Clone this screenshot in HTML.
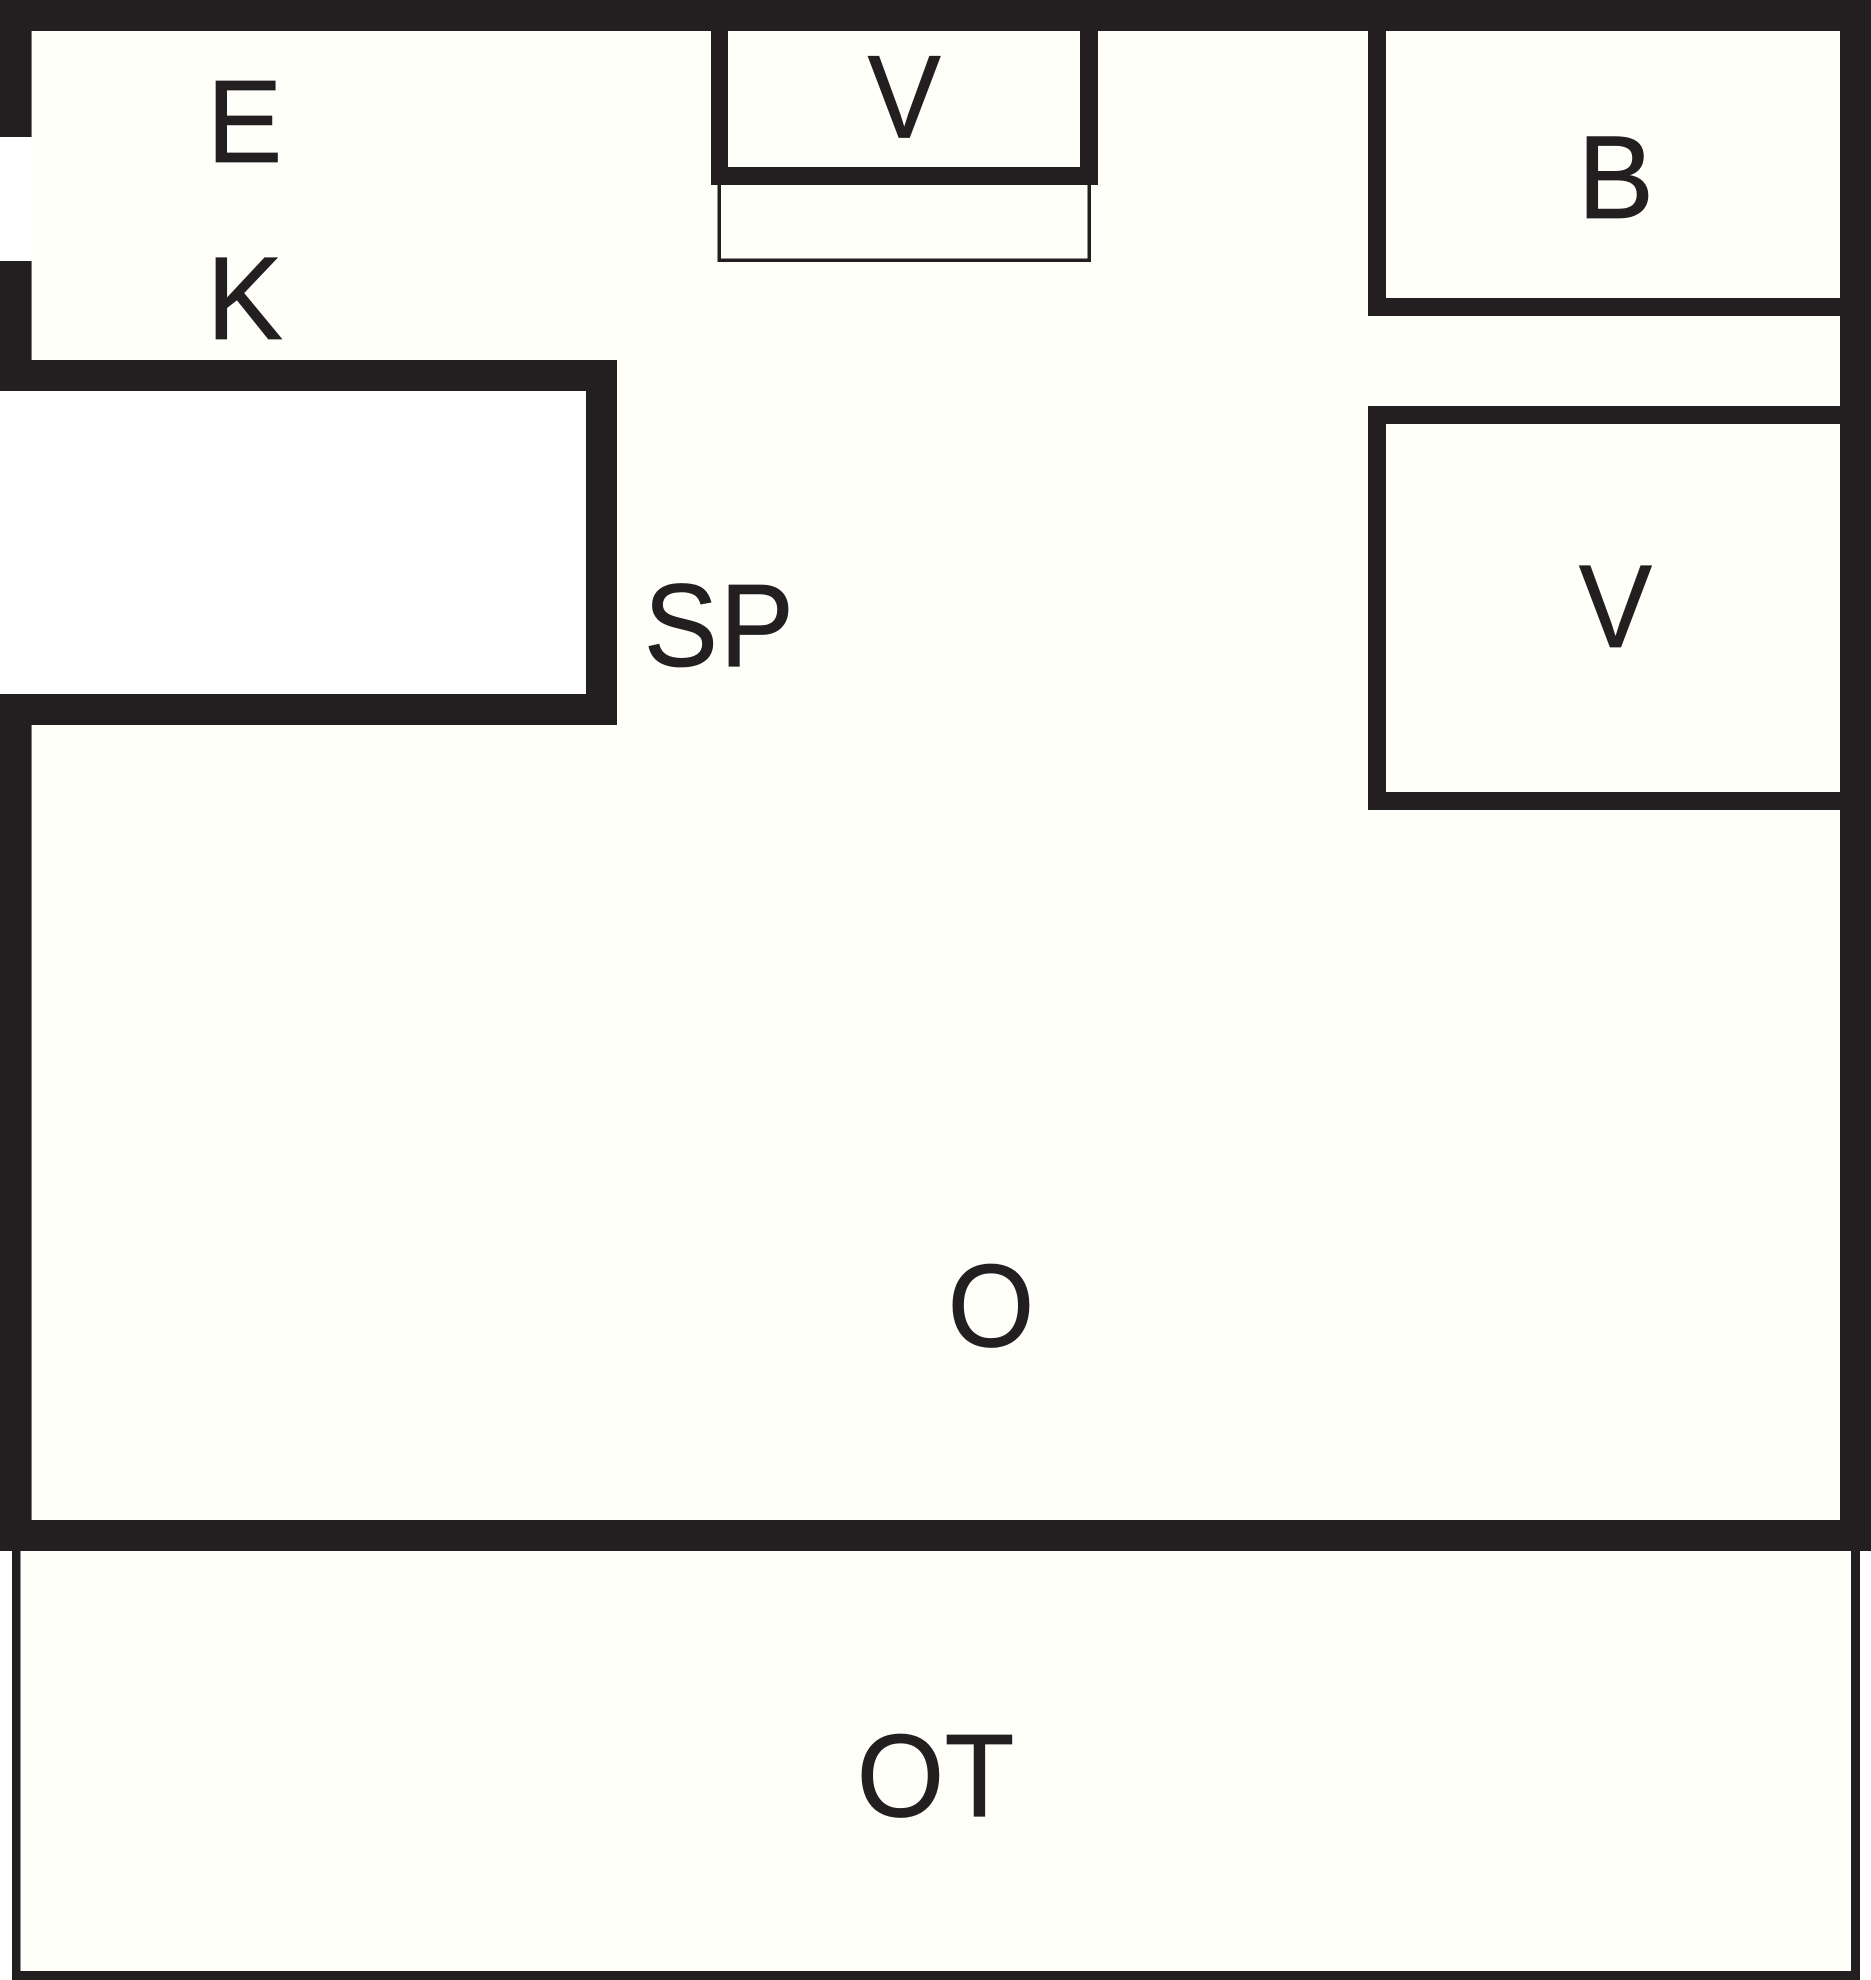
<!DOCTYPE html>
<html>
<head>
<meta charset="utf-8">
<style>
html,body{margin:0;padding:0;background:#fff;width:1871px;height:1980px;overflow:hidden}
svg{display:block}
text{font-family:"Liberation Sans",sans-serif;font-size:118px;fill:#231f20;stroke:#231f20;stroke-width:0.8}
</style>
</head>
<body>
<svg xmlns="http://www.w3.org/2000/svg" width="1871" height="1980" viewBox="0 0 1871 1980">
<rect width="1871" height="1980" fill="#fff"/>
<path fill="#fffffa" d="M31 31H1840V1520H31V725H617V360H31Z"/>
<rect x="20" y="1551" width="1831" height="420" fill="#fffffa"/>
<g fill="#231f20">
<rect x="0" y="0" width="1871" height="31"/>
<rect x="0" y="31" width="31.6" height="106"/>
<rect x="0" y="261" width="31.6" height="130"/>
<rect x="0" y="360" width="617" height="31"/>
<rect x="586" y="360" width="31" height="365"/>
<rect x="0" y="694" width="617" height="31"/>
<rect x="0" y="694" width="31.6" height="857"/>
<rect x="0" y="1520" width="1871" height="31"/>
<rect x="1840" y="0" width="31" height="1551"/>
<rect x="12" y="1551" width="8.5" height="429"/>
<rect x="1851" y="1551" width="9" height="429"/>
<rect x="12" y="1971" width="1848" height="9"/>
<rect x="711" y="31" width="17" height="154"/>
<rect x="1080" y="31" width="18" height="154"/>
<rect x="711" y="167" width="387" height="18"/>
<rect x="717.5" y="185" width="3.5" height="77"/>
<rect x="1087.5" y="185" width="3.5" height="77"/>
<rect x="717.5" y="258.5" width="373.5" height="3.5"/>
<rect x="1368" y="31" width="18" height="285"/>
<rect x="1368" y="298" width="472" height="18"/>
<rect x="1368" y="406" width="18" height="404"/>
<rect x="1368" y="406" width="472" height="18"/>
<rect x="1368" y="792" width="472" height="18"/>
</g>
<text transform="translate(206.7 162) scale(.96 1)">E</text>
<text transform="translate(206.6 339) scale(.97 1)">K</text>
<text transform="translate(904.2 137.3) scale(.93 1)" text-anchor="middle">V</text>
<text transform="translate(1577.6 218) scale(.97 1)">B</text>
<text transform="translate(1615.5 647) scale(.93 1)" text-anchor="middle">V</text>
<text transform="translate(643.9 666) scale(.94 1)">S</text>
<text transform="translate(719.9 666) scale(.94 1)">P</text>
<text transform="translate(991 1346.5) scale(.945 1)" text-anchor="middle">O</text>
<text transform="translate(900.5 1816.5) scale(.955 1)" text-anchor="middle">O</text>
<text transform="translate(979.5 1816) scale(.97 1)" text-anchor="middle">T</text>
</svg>
</body>
</html>
